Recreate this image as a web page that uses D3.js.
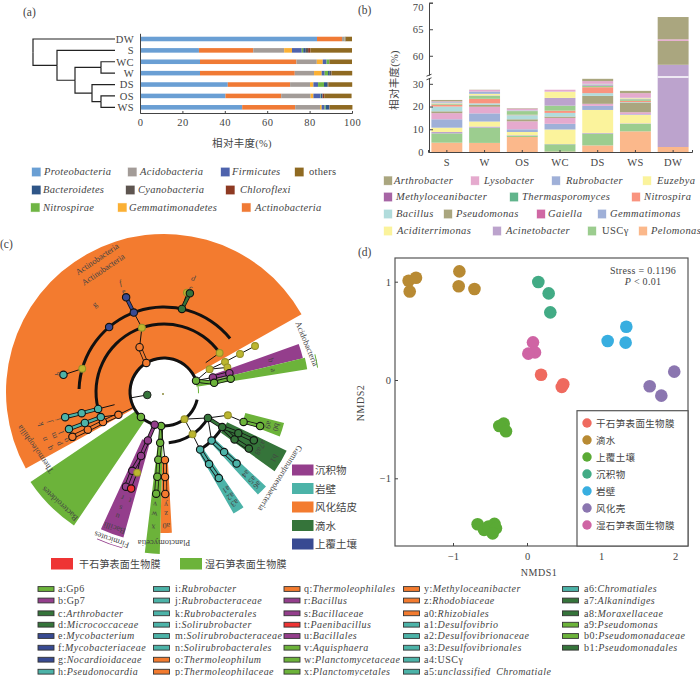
<!DOCTYPE html>
<html>
<head>
<meta charset="utf-8">
<script src="https://cdnjs.cloudflare.com/ajax/libs/d3/7.8.5/d3.min.js"></script>
<style>
html, body { margin: 0; padding: 0; background: #fff; }
svg { display: block; }
text { font-family: "Liberation Serif", "Noto Sans CJK SC", serif; fill: #444; }
.domain, .tick line { stroke: #444; }
</style>
</head>
<body>
<div id="chart"></div>
<script>
// ---- panel (a) data
var phylaSamples = ["DW", "S", "WC", "W", "DS", "OS", "WS"];
var phylaNames = ["Proteobacteria", "Actinobacteria", "Acidobacteria", "Gemmatimonadetes", "Firmicutes", "Nitrospirae", "Bacteroidetes", "Cyanobacteria", "Chloroflexi", "others"];
var proteobacteria   = [83.5, 27.8, 28.3, 28.3, 41.4, 40.3, 48.2];
var actinobacteria   = [11.8, 25.6, 45.5, 44.7, 29.4, 26.3, 25.0];
var acidobacteria    = [1.1, 14.6, 9.6, 9.1, 9.4, 13.9, 11.7];
var gemmatimonadetes = [0.1, 3.7, 2.8, 3.6, 1.6, 1.3, 0.8];
var firmicutes       = [0.1, 4.6, 1.8, 1.4, 2.2, 3.3, 1.4];
var nitrospirae      = [0.1, 0.7, 1.2, 1.6, 2.8, 0.2, 0.5];
var bacteroidetes    = [0.1, 1.2, 0.1, 0.8, 1.6, 0.7, 1.7];
var cyanobacteria    = [0.1, 1.1, 0.1, 0.8, 0.3, 0.2, 0.1];
var chloroflexi      = [0.1, 1.1, 0.1, 0.1, 0.2, 0.7, 0.1];
var phylaOthers      = [3.0, 19.6, 10.5, 9.7, 11.2, 12.9, 10.7];
var phylaSeries = [proteobacteria, actinobacteria, acidobacteria, gemmatimonadetes, firmicutes, nitrospirae, bacteroidetes, cyanobacteria, chloroflexi, phylaOthers];
var phylaColors = ["#6a9fd4", "#f07a35", "#a39c98", "#fbb034", "#4e63ad", "#6fb544", "#2f5688", "#5e5550", "#8e3a22", "#8f6a22"];

// tree of the samples, h = distance from the tips
var sampleTree = {h: 82, children: [
  {name: "DW", h: 0},
  {h: 58, children: [
    {name: "S", h: 0},
    {h: 40, children: [
      {h: 14, children: [{name: "WC", h: 0}, {name: "W", h: 0}]},
      {h: 23, children: [
        {name: "DS", h: 0},
        {h: 14, children: [{name: "OS", h: 0}, {name: "WS", h: 0}]}
      ]}
    ]}
  ]}
]};

// ---- panel (b) data
var genusSamples = ["S", "W", "OS", "WC", "DS", "WS", "DW"];
var genusTicks = [0, 10, 20, 30, 60, 65, 70];
var pelomonas       = [4.1, 4.0, 6.6, 0.2, 2.9, 9.1, 2.2];
var uscGamma        = [4.1, 6.7, 0.6, 3.2, 5.2, 3.3, 0];
var acinetobacter   = [0.6, 0.5, 0.2, 0.1, 0.3, 0.2, 56.1];
var aciditerrimonas = [1.9, 2.2, 1.4, 6.4, 10.1, 3.7, 0];
var gemmatimonas    = [3.7, 3.6, 1.2, 2.5, 1.8, 0.3, 0];
var gaiella         = [2.7, 2.9, 3.5, 2.6, 0.9, 0.9, 0];
var pseudomonas     = [0.8, 0.8, 0.9, 0.6, 3.5, 4.3, 4.5];
var bacillus        = [2.1, 0.7, 1.8, 1.6, 1.2, 0.2, 0];
var nitrospira      = [0.8, 2.0, 0.2, 1.0, 2.6, 0.5, 0];
var thermasporomyces = [0.4, 1.3, 1.6, 2.2, 0.6, 0.7, 0];
var methyloceanibacter = [0.2, 0.2, 0.1, 3.4, 0.4, 0.2, 0];
var euzebya         = [0.3, 0.7, 0.1, 2.7, 0.2, 0.3, 0];
var rubrobacter     = [0.3, 1.0, 0.2, 0.1, 0.3, 0.2, 0];
var lysobacter      = [0.3, 0.7, 0.7, 0.8, 1.2, 2.0, 0.3];
var arthrobacter    = [0.6, 0.1, 0.2, 0, 1.0, 1.0, 4.2];
var genusSeries = [pelomonas, uscGamma, acinetobacter, aciditerrimonas, gemmatimonas, gaiella, pseudomonas, bacillus, nitrospira, thermasporomyces, methyloceanibacter, euzebya, rubrobacter, lysobacter, arthrobacter];
var genusBarColors = ["#fbb88b", "#9ccd8f", "#bca3cd", "#fbf39c", "#9fb0d8", "#e5aace", "#aaa67f", "#b1dcdc", "#f9947f", "#9ccd8f", "#bca3cd", "#fbf39c", "#9fb0d8", "#e5aace", "#aaa67f"];

// ---- panel (d) data
var nmdsGroups = ["干石笋表面生物膜", "滴水", "上覆土壤", "沉积物", "岩壁", "风化壳", "湿石笋表面生物膜"];
var nmdsColors = ["#ef6a5f", "#b88a33", "#5aaa35", "#42ab85", "#38aee0", "#8b76b0", "#cf64a4"];
var nmds1 = [0.19, 0.49, 0.47, -1.6, -1.5, -1.585, -0.914, -0.923, -0.71, -0.315, -0.374, -0.284, -0.667, -0.58, -0.52, -0.44, -0.42, -0.464, 0.153, 0.293, 0.315, 1.342, 1.09, 1.333, 1.99, 1.658, 1.815, 0.081, 0.108, 0.018];
var nmds2 = [0.054, -0.044, -0.07, 1.01, 1.04, 0.90, 1.105, 0.953, 0.925, -0.444, -0.468, -0.522, -1.468, -1.525, -1.49, -1.464, -1.508, -1.56, 0.997, 0.881, 0.688, 0.542, 0.397, 0.38, 0.085, -0.064, -0.159, 0.383, 0.281, 0.268];
var nmdsGroup = [0, 0, 0, 1, 1, 1, 1, 1, 1, 2, 2, 2, 2, 2, 2, 2, 2, 2, 3, 3, 3, 4, 4, 4, 5, 5, 5, 6, 6, 6];

// ---- panel (c) data
var cladeColors = {sed: "#943e8c", wall: "#4cb3a8", crust: "#f37b2f", drip: "#35743a", soil: "#384a92", dry: "#ee3434", wet: "#6cb33a", none: "#bcb62f"};
// id, parent id, angle (deg clockwise from north), ring, group
var cladeNodes = [
  ["act", null, -31.3, 1, "crust"], ["act2", "act", -28.6, 2, "crust"], ["act3", "act2", -19, 3, "none"],
  ["e4", "act3", -20.8, 4, "soil"], ["e", "e4", -21.8, 5, "soil"], ["g4", null, -40.2, 4, "soil"],
  ["h4", null, -74.1, 4, "none"], ["h", "h4", -80.3, 5, "wall"], ["d5", "c4", 13, 5, "none"], ["c4", null, 12.2, 4, "drip"], ["c", "c4", 14.7, 5, "drip"],
  ["end3", null, 54.9, 3, "none"],
  ["ac1", null, 70.5, 1, "wet"], ["o2", "ac1", 63.4, 2, "none"], ["o3", "o2", 63.8, 3, "none"], ["o4", "o3", 63.4, 4, "none"], ["o5", "o4", 63.2, 5, "none"],
  ["o6", "o2", 68.8, 3, "none"], ["b2", "ac1", 73.4, 2, "sed"], ["b3", "b2", 74, 3, "sed"], ["a2", "ac1", 79.6, 2, "wet"], ["a3", "a2", 78.7, 3, "wet"],
  ["gam1", null, 143, 1, "none"], ["del2", "gam1", 146, 2, "none"], ["a1n", "del2", 147.9, 3, "wall"], ["a2n", "a1n", 148, 4, "wall"], ["a3n", "a2n", 147.5, 5, "wall"],
  ["gam2", "gam1", 120.6, 2, "drip"], ["a4n", "gam2", 135.6, 3, "wall"], ["a5n", "a4n", 135, 4, "wall"], ["a6n", "a5n", 134.6, 5, "wall"],
  ["ps3", "gam2", 121.1, 3, "drip"], ["a7n", "ps3", 123.9, 4, "drip"], ["a7e", "a7n", 123.7, 5, "drip"], ["a8n", "ps3", 119, 4, "drip"], ["a8e", "a8n", 118.3, 5, "drip"],
  ["ol3", "gam2", 110, 3, "none"], ["a9n", "ol3", 110.6, 4, "wet"], ["b0n", "a9n", 109.5, 5, "wet"],
  ["pl1", null, 184.8, 1, "wet"], ["pl2", "pl1", 184.3, 2, "wet"], ["pl3", "pl2", 184.8, 3, "wet"], ["pl4", "pl3", 184.5, 4, "wet"], ["pl5", "pl4", 184.4, 5, "wet"],
  ["y3", "pl1", 179.2, 3, "crust"], ["y4", "y3", 179.3, 4, "crust"], ["y5", "y4", 179.3, 5, "crust"],
  ["fi1", null, 195.9, 1, "sed"], ["fi2", "fi1", 198.4, 2, "sed"], ["fi3", "fi2", 199.7, 3, "sed"], ["fi4", "fi3", 201.9, 4, "sed"], ["fi5", "fi4", 201.9, 5, "sed"],
  ["tn", "fi3", 198.4, 4, "none"], ["t", "tn", 198.8, 5, "dry"],
  ["ba1", null, 222.7, 1, "wet"],
  ["q2", null, 243.4, 2, "crust"], ["q3", "q2", 243.8, 3, "crust"], ["q4", "q3", 243.7, 4, "crust"], ["q5", "q4", 243.9, 5, "crust"],
  ["n3", "q2", 248.4, 3, "wall"], ["n4", "n3", 248.6, 4, "wall"], ["n5", "n4", 248.7, 5, "wall"],
  ["k3", null, 255.6, 3, "wall"], ["k4", "k3", 255.6, 4, "wall"], ["k5", "k4", 255.7, 5, "wall"]
];
// start angle, end angle, inner radius, outer radius, group
var cladeWedges = [
  [-119, 60.5, 33, 158, "crust"], [70.4, 76.3, 50, 143, "sed"], [76.3, 81, 33, 145, "wet"],
  [104.5, 111, 84, 124, "wet"], [115.6, 125.6, 70, 136, "drip"], [132.8, 137.5, 70, 139, "wall"], [145.4, 150.2, 70, 140, "wall"],
  [176.8, 181.5, 70, 141, "crust"], [181.5, 186.8, 36, 162, "wet"], [195.6, 204.7, 52, 151, "sed"], [214, 236, 35, 161, "wet"]
];
// ring, start angle, end angle
var cladeArcs = [[1, 103, 430.5], [2, 120.6, 174.7], [3, 118, 148], [3, -104.4, 54.9], [4, -88, 51]];
// text, angle, radius, rotation
var cladeClassLabels = [
  ["Actinobacteria", -26.7, 149, -34], ["Actinobacteria", -26.4, 137, -34], ["Acidobacteria", 71.3, 151, 67.5],
  ["Gammaproteobacteria", 126.6, 145, 122], ["Planctomycetia", 180, 151, 180], ["Firmicutes", 199.5, 157, 199],
  ["Bacilli", 200, 145, 199], ["Bacteroidetes", 223, 153, 223], ["Thermoleophilia", 246, 141, 235]
];
var cladeLetters = [
  ["f", -21.8, 118], ["e", -21.8, 109], ["g", -38.4, 112], ["h", -80.3, 108], ["d", 14.5, 118], ["c", 14.5, 108],
  ["a", 78.6, 112], ["b", 73.4, 112],
  ["a9", 107.5, 110], ["b0", 107.5, 118], ["a7", 118, 112], ["a8", 122, 112], ["b1", 121, 129],
  ["a4", 135, 116], ["a5", 135, 125], ["a6", 135, 132], ["a1", 147.5, 116], ["a2", 147.5, 124], ["a3", 147.5, 132],
  ["y", 179, 113], ["z", 179, 122], ["a0", 179, 134], ["v", 184.5, 113], ["w", 184.5, 123], ["x", 184.5, 136],
  ["r", 201.5, 114], ["t", 197.5, 114], ["s", 200.5, 124], ["u", 200.5, 133],
  ["i", 255.5, 110], ["j", 255.5, 119], ["k", 255.5, 128], ["l", 248.5, 111], ["m", 248.5, 119], ["n", 248.5, 129],
  ["o", 243.8, 110], ["p", 243.8, 118], ["q", 243.8, 128]
];
var cladeLegend = [["沉积物", "sed"], ["岩壁", "wall"], ["风化结皮", "crust"], ["滴水", "drip"], ["上覆土壤", "soil"]];
var biofilmLegend = [["干石笋表面生物膜", "dry"], ["湿石笋表面生物膜", "wet"]];
var taxaCol1 = [["a:", "Gp6", "wet", 0], ["b:", "Gp7", "sed", 0], ["c:", "Arthrobacter", "drip", 1], ["d:", "Micrococcaceae", "drip", 1], ["e:", "Mycobacterium", "soil", 1], ["f:", "Mycobacteriaceae", "soil", 1], ["g:", "Nocardioidaceae", "soil", 1], ["h:", "Pseudonocardia", "wall", 1]];
var taxaCol2 = [["i:", "Rubrobacter", "wall", 1], ["j:", "Rubrobacteraceae", "wall", 1], ["k:", "Rubrobacterales", "wall", 1], ["i:", "Solirubrobacter", "wall", 1], ["m:", "Solirubrobacteraceae", "wall", 1], ["n:", "Solirubrobacterales", "wall", 1], ["o:", "Thermoleophilum", "crust", 1], ["p:", "Thermoleophilaceae", "crust", 1]];
var taxaCol3 = [["q:", "Thermoleophilales", "crust", 1], ["r:", "Bacillus", "sed", 1], ["s:", "Bacillaceae", "sed", 1], ["t:", "Paenibacillus", "dry", 1], ["u:", "Bacillales", "sed", 1], ["v:", "Aquisphaera", "wet", 1], ["w:", "Planctomycetaceae", "wet", 1], ["x:", "Planctomycetales", "wet", 1]];
var taxaCol4 = [["y:", "Methyloceanibacter", "crust", 1], ["z:", "Rhodobiaceae", "crust", 1], ["a0:", "Rhizobiales", "crust", 1], ["a1:", "Desulfovibrio", "wall", 1], ["a2:", "Desulfovibrionaceae", "wall", 1], ["a3:", "Desulfovibrionales", "wall", 1], ["a4:", "USCγ", "wall", 0], ["a5:", "unclassified_Chromatiale", "wall", 1]];
var taxaCol5 = [["a6:", "Chromatiales", "wall", 1], ["a7:", "Alkanindiges", "drip", 1], ["a8:", "Moraxellaceae", "drip", 1], ["a9:", "Pseudomonas", "wet", 1], ["b0:", "Pseudomonadaceae", "wet", 1], ["b1:", "Pseudomonadales", "drip", 1]];

var svg = d3.select("#chart").append("svg").attr("width", 700).attr("height", 676);

function panelLabel(t, x, y) {
  svg.append("text").attr("x", x).attr("y", y).attr("font-size", 11.5).text(t);
}
panelLabel("(a)", 23, 16);
panelLabel("(b)", 358, 14);
panelLabel("(c)", 0, 248);
panelLabel("(d)", 358, 256);

// legend helper: swatch and label at given places
function legendItem(g, sw, x, y, label, color, tx, italic, spacing) {
  g.append("rect").attr("x", x).attr("y", y - 4.2).attr("width", sw).attr("height", 8.4)
    .attr("fill", color).attr("stroke", color).attr("stroke-opacity", 0.4).attr("stroke-width", 0.8);
  g.append("text").attr("x", tx).attr("y", y + 3.4).attr("font-size", 10.5)
    .attr("font-style", italic ? "italic" : "normal").attr("letter-spacing", spacing).text(label);
}

// ---------- (a)
var a = svg.append("g");
var ax = d3.scaleLinear().domain([0, 100]).range([140, 352]);
var ay = d3.scaleBand().domain(phylaSamples).range([33.3, 113]).paddingInner(0.6).paddingOuter(0.3);
var phylaStack = d3.stack().keys(d3.range(phylaSeries.length)).value(function(d, k) { return phylaSeries[k][d]; })(d3.range(phylaSamples.length));
phylaStack.forEach(function(layer, k) {
  a.selectAll(null).data(layer).enter().append("rect")
    .attr("x", function(d) { return ax(d[0]); })
    .attr("y", function(d, i) { return ay(phylaSamples[i]); })
    .attr("width", function(d) { return ax(d[1]) - ax(d[0]); })
    .attr("height", ay.bandwidth())
    .attr("fill", phylaColors[k]);
});
var aAxis = a.append("g").attr("transform", "translate(0,113)").call(d3.axisBottom(ax).tickValues([0, 20, 40, 60, 80, 100]).tickSize(-2).tickPadding(6));
aAxis.selectAll("text").attr("font-size", 10.5).attr("letter-spacing", 0.5);
a.append("g").attr("transform", "translate(140,0)").call(d3.axisLeft(ay).tickSize(0).tickFormat(""));
a.append("text").attr("x", 242).attr("y", 147).attr("text-anchor", "middle").attr("font-size", 10.5).attr("letter-spacing", 0.3).text("相对丰度(%)");

// dendrogram
var treeX = d3.scaleLinear().domain([82, 0]).range([33, 115]);
var treeRoot = d3.hierarchy(sampleTree);
treeRoot.eachAfter(function(n) {
  n.py = n.children ? d3.mean(n.children, function(c) { return c.py; }) : ay(n.data.name) + ay.bandwidth() / 2;
  n.px = treeX(n.data.h);
});
treeRoot.links().forEach(function(l) {
  a.append("path").attr("fill", "none").attr("stroke", "#222").attr("stroke-width", 1.2)
    .attr("d", "M" + l.source.px + "," + l.source.py + "V" + l.target.py + "H" + l.target.px);
});
phylaSamples.forEach(function(s) {
  a.append("text").attr("x", 134).attr("y", ay(s) + ay.bandwidth() / 2 + 3.8).attr("text-anchor", "end").attr("font-size", 10.5).attr("letter-spacing", 0.4).text(s);
});

var phylaLegend = [
  [32, 172, 0, 44], [128, 172, 2, 140], [221, 172, 4, 232], [295, 172, 9, 309],
  [32, 190, 6, 43], [126, 190, 7, 138], [226, 190, 8, 240],
  [31, 207.5, 5, 43], [118, 207.5, 3, 129], [242, 207.5, 1, 255]
];
phylaLegend.forEach(function(p) {
  legendItem(a, 8.5, p[0], p[1], phylaNames[p[2]], phylaColors[p[2]], p[3], p[2] != 9, 0.3);
});

// ---------- (b)
var b = svg.append("g");
var bx = d3.scaleBand().domain(genusSamples).range([428, 692]).paddingInner(0.18).paddingOuter(0.09);
var by = d3.scaleLinear().domain([0, 33, 56, 70]).range([152, 77, 77, 2.7]);
var genusStack = d3.stack().keys(d3.range(genusSeries.length)).value(function(d, k) { return genusSeries[k][d]; })(d3.range(genusSamples.length));
genusStack.forEach(function(layer, k) {
  b.selectAll(null).data(layer.filter(function(d) { return d[1] > d[0]; })).enter().append("rect")
    .attr("x", function(d) { return bx(genusSamples[d.data]); })
    .attr("y", function(d) { return by(d[1]); })
    .attr("width", bx.bandwidth())
    .attr("height", function(d) { return by(d[0]) - by(d[1]); })
    .attr("fill", genusBarColors[k]);
});
b.append("line").attr("x1", bx("DW")).attr("x2", bx("DW") + bx.bandwidth()).attr("y1", by(33)).attr("y2", by(33)).attr("stroke", "#fff").attr("stroke-width", 1.5);
var byAxis = b.append("g").attr("transform", "translate(429,0)").call(d3.axisLeft(by).tickValues(genusTicks).tickSize(-4).tickPadding(5));
byAxis.selectAll("text").attr("font-size", 10.5).attr("letter-spacing", 0.4);
// top label sits right at the page edge, nudge it down so it stays whole
byAxis.selectAll("text").filter(function(d) { return d == 70; }).attr("dy", "0.78em");
var bxAxis = b.append("g").attr("transform", "translate(0,152)").call(d3.axisBottom(bx).tickSize(-2).tickPadding(7));
bxAxis.selectAll("text").attr("font-size", 10.5).attr("letter-spacing", 0.4);
// axis break
b.append("rect").attr("x", 426).attr("y", by(33) - 1.5).attr("width", 6).attr("height", 3).attr("fill", "#fff");
[-1.8, 1.8].forEach(function(d) {
  b.append("line").attr("x1", 426.5).attr("x2", 431.5).attr("y1", by(33) + d + 1).attr("y2", by(33) + d - 1).attr("stroke", "#444");
});
b.append("text").attr("transform", "translate(398,80) rotate(-90)").attr("text-anchor", "middle").attr("font-size", 10.5).attr("letter-spacing", 0.3).text("相对丰度(%)");

var genusLegend = [
  ["Arthrobacter", "#aaa67f", 384, 180.7, 394, 1], ["Lysobacter", "#e5aace", 471, 180.7, 484, 1], ["Rubrobacter", "#9fb0d8", 552, 180.7, 566, 1], ["Euzebya", "#fbf39c", 643, 180.7, 657, 1],
  ["Methyloceanibacter", "#a765a5", 384, 197, 396, 1], ["Thermasporomyces", "#62b58c", 510, 197, 522, 1], ["Nitrospira", "#f9947f", 632, 197, 644, 1],
  ["Bacillus", "#b1dcdc", 384, 214, 396, 1], ["Pseudomonas", "#aaa67f", 444, 214, 456, 1], ["Gaiella", "#d068a4", 537, 214, 548, 1], ["Gemmatimonas", "#9fb0d8", 598, 214, 610, 1],
  ["Aciditerrimonas", "#fbf39c", 384, 231, 397, 1], ["Acinetobacter", "#bca3cd", 493, 231, 506, 1], ["USCγ", "#9ccd8f", 588, 231, 602, 0], ["Pelomonas", "#fbb88b", 639, 231, 651, 1]
];
genusLegend.forEach(function(p) { legendItem(b, 8, p[2], p[3], p[0], p[1], p[4], p[5], 0.4); });

// ---------- (c)
var c = svg.append("g").attr("transform", "translate(164,392)");
var ring = d3.scaleLinear().domain([1, 5]).range([34, 102]);
var rad = Math.PI / 180;
function polar(angle, r) { return d3.pointRadial(angle * rad, r); }
var arcGen = d3.arc();
cladeWedges.forEach(function(w) {
  c.append("path").attr("fill", cladeColors[w[4]])
    .attr("d", arcGen({innerRadius: w[2], outerRadius: w[3], startAngle: w[0] * rad, endAngle: w[1] * rad}));
});
// thin magenta mark under the Firmicutes label, green ones by Acidobacteria
c.append("path").attr("fill", "#943e8c").attr("d", arcGen({innerRadius: 161, outerRadius: 161.8, startAngle: 195 * rad, endAngle: 204.5 * rad}));
c.append("path").attr("fill", "#6cb33a").attr("d", arcGen({innerRadius: 155, outerRadius: 156, startAngle: 76 * rad, endAngle: 81 * rad}));
c.append("path").attr("fill", "#6cb33a").attr("d", arcGen({innerRadius: 34, outerRadius: 35, startAngle: 81 * rad, endAngle: 92 * rad}));

cladeArcs.forEach(function(k) {
  c.append("path").attr("fill", "#111")
    .attr("d", arcGen({innerRadius: ring(k[0]) - 1.5, outerRadius: ring(k[0]) + 1.5, startAngle: k[1] * rad, endAngle: k[2] * rad}));
});

var nodeById = {};
cladeNodes.forEach(function(n) { nodeById[n[0]] = n; });
function nodeXY(n) { return polar(n[2], ring(n[3])); }
cladeNodes.forEach(function(n) {
  var p = nodeXY(n);
  var q;
  if (n[1]) q = nodeXY(nodeById[n[1]]);
  else q = polar(n[2], ring(n[3] == 1 ? 1 : n[3] - 1));
  if (n[3] > 3 && !n[1]) q = p;
  var same = n[1] && nodeById[n[1]][4] == n[4] && n[4] != "none";
  c.append("line").attr("x1", p[0]).attr("y1", p[1]).attr("x2", q[0]).attr("y2", q[1])
    .attr("stroke", "#111").attr("stroke-width", same ? 4 : 1);
  if (same) {
    c.append("line").attr("x1", p[0]).attr("y1", p[1]).attr("x2", q[0]).attr("y2", q[1])
      .attr("stroke", cladeColors[n[4]]).attr("stroke-width", 2.4);
  }
});
// centre: root dot and the lone node on its spoke
var spoke = polar(-100, 17), spokeEnd = polar(-100, 34);
c.append("line").attr("x1", spoke[0]).attr("y1", spoke[1]).attr("x2", spokeEnd[0]).attr("y2", spokeEnd[1]).attr("stroke", "#111");
c.append("circle").attr("cx", spoke[0]).attr("cy", spoke[1]).attr("r", 3.8).attr("fill", "#35743a").attr("stroke", "#222");
c.append("circle").attr("cx", -1).attr("cy", 2).attr("r", 1).attr("fill", "#8a8a3a");

c.selectAll(null).data(cladeNodes).enter().append("circle")
  .attr("cx", function(n) { return nodeXY(n)[0]; })
  .attr("cy", function(n) { return nodeXY(n)[1]; })
  .attr("r", function(n) { return n[4] == "none" ? 3.4 : 3.7; })
  .attr("fill", function(n) { return cladeColors[n[4]]; })
  .attr("stroke", function(n) { return n[4] == "none" ? "#96922a" : "#111"; })
  .attr("stroke-width", 1.1);

cladeClassLabels.forEach(function(t) {
  var p = polar(t[1], t[2]);
  c.append("text").attr("transform", "translate(" + p[0] + "," + p[1] + ") rotate(" + t[3] + ")")
    .attr("text-anchor", "middle").attr("dy", 3).attr("font-size", 8.5).attr("fill", "#222").text(t[0]);
});
cladeLetters.forEach(function(t) {
  var p = polar(t[1], t[2]);
  c.append("text").attr("transform", "translate(" + p[0] + "," + p[1] + ") rotate(" + t[1] + ")")
    .attr("text-anchor", "middle").attr("dy", 3).attr("font-size", 8).attr("font-style", t[0] == "d" || t[0] == "f" ? "italic" : "normal").attr("fill", "#222").text(t[0]);
});

// legend beside the cladogram
var cl = svg.append("g");
var cladeLegendY = d3.scalePoint().domain(cladeLegend.map(function(d) { return d[0]; })).range([470, 544]);
cladeLegend.forEach(function(d) {
  cl.append("rect").attr("x", 292).attr("y", cladeLegendY(d[0]) - 5.5).attr("width", 21.5).attr("height", 11)
    .attr("fill", cladeColors[d[1]]);
  cl.append("text").attr("x", 315).attr("y", cladeLegendY(d[0]) + 4).attr("font-size", 10.5).text(d[0]);
});
biofilmLegend.forEach(function(d, i) {
  var sx = i == 0 ? 51 : 180;
  cl.append("rect").attr("x", sx).attr("y", 558).attr("width", 22).attr("height", 11.5).attr("fill", cladeColors[d[1]]);
  cl.append("text").attr("x", sx + (i == 0 ? 28 : 25)).attr("y", 568).attr("font-size", 10).attr("letter-spacing", 0.2).text(d[0]);
});

// taxa key
var taxaRow = d3.scaleOrdinal().domain(d3.range(8)).range([589, 600.5, 613.3, 624.7, 636, 647.7, 659.7, 671.7]);
function taxaColumn(list, sx, tx) {
  var g = svg.append("g");
  list.forEach(function(d, i) {
    var y = taxaRow(i);
    g.append("rect").attr("x", sx).attr("y", y - 2.4).attr("width", 16).attr("height", 4.8)
      .attr("fill", cladeColors[d[2]]).attr("stroke", "#333").attr("stroke-width", 0.9);
    var t = g.append("text").attr("x", tx).attr("y", y + 3.2).attr("font-size", 10).attr("letter-spacing", 0.45);
    t.append("tspan").text(d[0]);
    t.append("tspan").attr("font-style", d[3] ? "italic" : "normal").text(d[1]);
  });
}
taxaColumn(taxaCol1, 38, 58);
taxaColumn(taxaCol2, 153.5, 175);
taxaColumn(taxaCol3, 284, 304);
taxaColumn(taxaCol4, 403.5, 424);
taxaColumn(taxaCol5, 562.5, 584);

// ---------- (d)
var d_ = svg.append("g");
var dx = d3.scaleLinear().domain([-1, 2]).range([453, 675]);
var dy = d3.scaleLinear().domain([-1, 1]).range([478.3, 281.7]);
d_.append("rect").attr("x", 395).attr("y", 258).attr("width", 293).attr("height", 288)
  .attr("fill", "none").attr("stroke", "#555").attr("stroke-width", 1.2);
d_.selectAll(null).data(d3.range(nmds1.length)).enter().append("circle")
  .attr("cx", function(i) { return dx(nmds1[i]); })
  .attr("cy", function(i) { return dy(nmds2[i]); })
  .attr("r", 6.3)
  .attr("fill", function(i) { return nmdsColors[nmdsGroup[i]]; });
var dxAxis = d_.append("g").attr("transform", "translate(0,546)").call(d3.axisBottom(dx).tickValues([-1, 0, 1, 2]).tickSize(-3).tickPadding(7).tickFormat(d3.format("d")));
dxAxis.select(".domain").remove();
dxAxis.selectAll("text").attr("font-size", 10.5);
var dyAxis = d_.append("g").attr("transform", "translate(395,0)").call(d3.axisLeft(dy).tickValues([-1, 0, 1]).tickSize(-3).tickPadding(4).tickFormat(d3.format("d")));
dyAxis.select(".domain").remove();
dyAxis.selectAll("text").attr("font-size", 10.5);
d_.append("text").attr("x", 539).attr("y", 576).attr("text-anchor", "middle").attr("font-size", 10).attr("letter-spacing", 0.5).text("NMDS1");
d_.append("text").attr("transform", "translate(364,403) rotate(-90)").attr("text-anchor", "middle").attr("font-size", 10).attr("letter-spacing", 0.5).text("NMDS2");
d_.append("text").attr("x", 643).attr("y", 274).attr("text-anchor", "middle").attr("font-size", 10).attr("letter-spacing", 0.3).text("Stress = 0.1196");
var pLine = d_.append("text").attr("x", 643).attr("y", 285).attr("text-anchor", "middle").attr("font-size", 10).attr("letter-spacing", 0.3);
pLine.append("tspan").attr("font-style", "italic").text("P");
pLine.append("tspan").text(" < 0.01");
d_.append("rect").attr("x", 577).attr("y", 410.7).attr("width", 111).attr("height", 135.3)
  .attr("fill", "#fff").attr("stroke", "#555").attr("stroke-width", 1.2);
var nmdsLegendY = d3.scalePoint().domain(nmdsGroups).range([423, 525]);
nmdsGroups.forEach(function(g) {
  d_.append("circle").attr("cx", 587).attr("cy", nmdsLegendY(g)).attr("r", 4.7).attr("fill", nmdsColors[nmdsGroups.indexOf(g)]);
  d_.append("text").attr("x", 596).attr("y", nmdsLegendY(g) + 3.6).attr("font-size", 9.5).attr("letter-spacing", 0.35).text(g);
});
</script>
</body>
</html>
